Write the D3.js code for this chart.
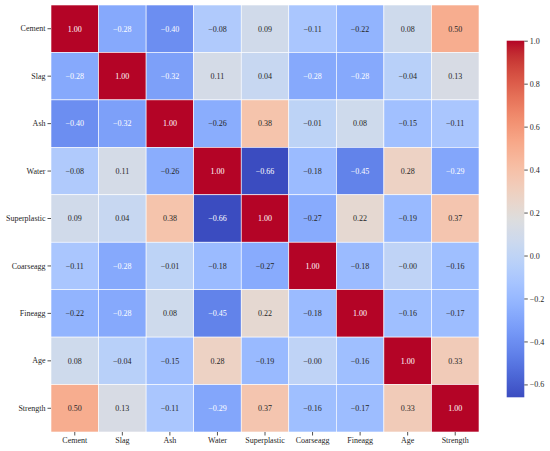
<!DOCTYPE html>
<html>
<head>
<meta charset="utf-8">
<script src="https://cdn.jsdelivr.net/npm/d3@7"></script>
<style>
  body { margin: 0; background: #fff; }
  text { font-family: "Liberation Serif", "Times New Roman", serif; }
</style>
</head>
<body>
<script>
// Variable names, used for both rows and columns
const variables = ["Cement", "Slag", "Ash", "Water", "Superplastic", "Coarseagg", "Fineagg", "Age", "Strength"];

// Correlation rows (one array per variable)
const cement       = [1.00, -0.28, -0.40, -0.08, 0.09, -0.11, -0.22, 0.08, 0.50];
const slag         = [-0.28, 1.00, -0.32, 0.11, 0.04, -0.28, -0.28, -0.04, 0.13];
const ash          = [-0.40, -0.32, 1.00, -0.26, 0.38, -0.01, 0.08, -0.15, -0.11];
const water        = [-0.08, 0.11, -0.26, 1.00, -0.66, -0.18, -0.45, 0.28, -0.29];
const superplastic = [0.09, 0.04, 0.38, -0.66, 1.00, -0.27, 0.22, -0.19, 0.37];
const coarseagg    = [-0.11, -0.28, -0.01, -0.18, -0.27, 1.00, -0.18, -0.003, -0.16];
const fineagg      = [-0.22, -0.28, 0.08, -0.45, 0.22, -0.18, 1.00, -0.16, -0.17];
const age          = [0.08, -0.04, -0.15, 0.28, -0.19, -0.003, -0.16, 1.00, 0.33];
const strength     = [0.50, 0.13, -0.11, -0.29, 0.37, -0.16, -0.17, 0.33, 1.00];

// Colour bar tick values
const colorbarTicks = [1.0, 0.8, 0.6, 0.4, 0.2, 0.0, -0.2, -0.4, -0.6];

const matrix = [cement, slag, ash, water, superplastic, coarseagg, fineagg, age, strength];

const width = 550;
const height = 451;
const marginLeft = 51;
const marginTop = 5;
const gridRight = 479;
const gridBottom = 432;

// coolwarm colormap (Moreland diverging table)
const coolwarm = [
  [59,76,192],[68,90,204],[77,104,215],[87,117,225],[98,130,234],[108,142,241],
  [119,154,247],[130,165,251],[141,176,254],[152,185,255],[163,194,255],[174,201,253],
  [184,208,249],[194,213,244],[204,217,238],[213,219,230],[221,221,221],[229,216,209],
  [236,211,197],[241,204,185],[245,196,173],[247,187,160],[247,177,148],[247,166,135],
  [244,154,123],[241,141,111],[236,127,99],[229,112,88],[222,96,77],[213,80,66],
  [203,62,56],[192,40,47],[180,4,38]
].map(c => d3.rgb(c[0], c[1], c[2]).toString());

const cells = [];
matrix.forEach((row, i) => row.forEach((v, j) => cells.push({row: variables[i], col: variables[j], value: v})));

const vmin = d3.min(cells, d => d.value);
const vmax = d3.max(cells, d => d.value);

const cmap = d3.scaleLinear()
    .domain(d3.range(coolwarm.length).map(k => k / (coolwarm.length - 1)))
    .range(coolwarm)
    .interpolate(d3.interpolateRgb)
    .clamp(true);
const norm = d3.scaleLinear().domain([vmin, vmax]).range([0, 1]);
const color = v => cmap(norm(v));

// seaborn-style text colour choice
function luminance(c) {
  const rgb = d3.rgb(c);
  const f = x => { x /= 255; return x <= 0.03928 ? x / 12.92 : Math.pow((x + 0.055) / 1.055, 2.4); };
  return 0.2126 * f(rgb.r) + 0.7152 * f(rgb.g) + 0.0722 * f(rgb.b);
}
const fmt = v => (v < 0 ? "\u2212" : "") + Math.abs(v).toFixed(2);

const x = d3.scaleBand().domain(variables).range([marginLeft, gridRight]);
const y = d3.scaleBand().domain(variables).range([marginTop, gridBottom]);

const svg = d3.select("body")
  .append("svg")
    .attr("width", width)
    .attr("height", height)
    .attr("viewBox", [0, 0, width, height]);

// Heatmap cells
svg.append("g")
  .selectAll()
  .data(cells)
  .join("rect")
    .attr("x", d => x(d.col))
    .attr("y", d => y(d.row))
    .attr("width", x.bandwidth())
    .attr("height", y.bandwidth())
    .attr("fill", d => color(d.value))
    .attr("stroke", "#fff")
    .attr("stroke-width", 0.6);

// Annotations
svg.append("g")
    .attr("font-size", 8)
    .attr("text-anchor", "middle")
  .selectAll()
  .data(cells)
  .join("text")
    .attr("x", d => x(d.col) + x.bandwidth() / 2)
    .attr("y", d => y(d.row) + y.bandwidth() / 2)
    .attr("dy", "0.35em")
    .attr("fill", d => luminance(color(d.value)) < 0.408 ? "#fff" : "#262626")
    .text(d => fmt(d.value));

// Axes
svg.append("g")
    .attr("transform", `translate(0,${gridBottom})`)
    .call(d3.axisBottom(x).tickSize(3.5).tickPadding(2))
    .call(g => g.select(".domain").remove())
    .call(g => g.selectAll("line").attr("stroke", "#262626").attr("stroke-width", 0.8))
    .call(g => g.selectAll("text").attr("font-size", 8).attr("fill", "#262626")
        .style("font-family", '"Liberation Serif", serif'));

svg.append("g")
    .attr("transform", `translate(${marginLeft},0)`)
    .call(d3.axisLeft(y).tickSize(3.5).tickPadding(2))
    .call(g => g.select(".domain").remove())
    .call(g => g.selectAll("line").attr("stroke", "#262626").attr("stroke-width", 0.8))
    .call(g => g.selectAll("text").attr("font-size", 8).attr("fill", "#262626")
        .style("font-family", '"Liberation Serif", serif'));

// Colour bar
const cbLeft = 506.7, cbWidth = 17.6, cbTop = 40.7, cbBottom = 397.3;
const cbScale = d3.scaleLinear().domain([vmin, vmax]).range([cbBottom, cbTop]);

const grad = svg.append("defs").append("linearGradient")
    .attr("id", "cb-grad")
    .attr("x1", 0).attr("y1", 1).attr("x2", 0).attr("y2", 0);
grad.selectAll("stop")
  .data(d3.range(0, 1.0001, 0.02))
  .join("stop")
    .attr("offset", d => d)
    .attr("stop-color", d => cmap(d));

svg.append("rect")
    .attr("x", cbLeft)
    .attr("y", cbTop)
    .attr("width", cbWidth)
    .attr("height", cbBottom - cbTop)
    .attr("fill", "url(#cb-grad)");

svg.append("g")
    .attr("transform", `translate(${cbLeft + cbWidth},0)`)
    .call(d3.axisRight(cbScale).tickValues(colorbarTicks).tickSize(3.5).tickPadding(2)
        .tickFormat(v => (v < 0 ? "\u2212" : "") + Math.abs(v).toFixed(1)))
    .call(g => g.select(".domain").remove())
    .call(g => g.selectAll("line").attr("stroke", "#262626").attr("stroke-width", 0.8))
    .call(g => g.selectAll("text").attr("font-size", 8).attr("fill", "#262626")
        .style("font-family", '"Liberation Serif", serif'));
</script>
</body>
</html>
